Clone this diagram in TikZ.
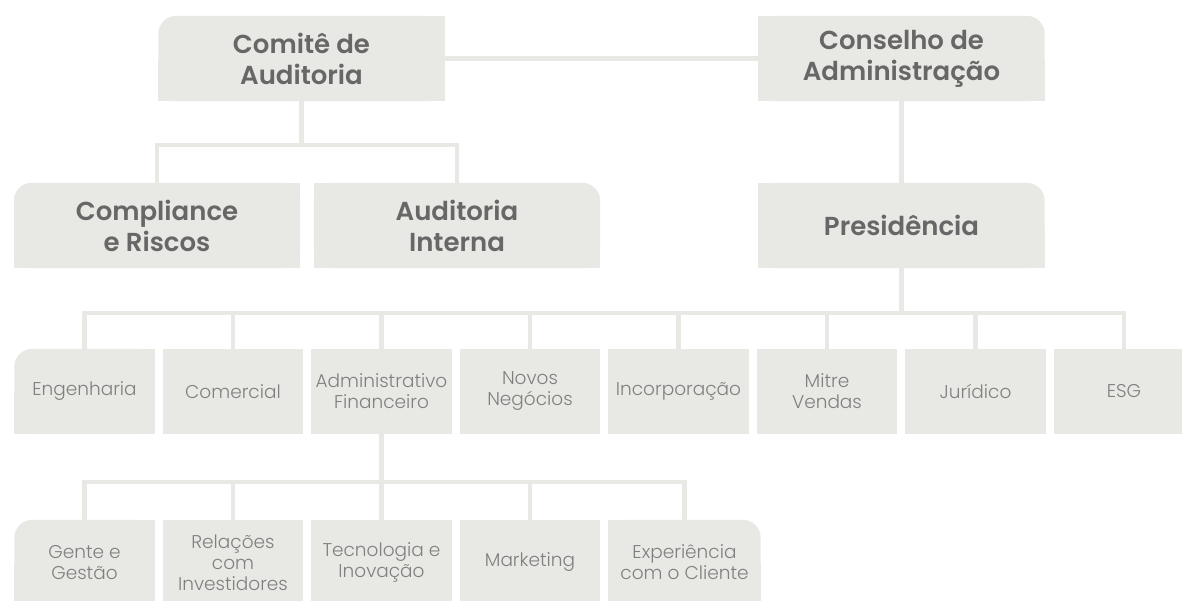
\documentclass[tikz,border=0pt]{standalone}
\usepackage{fontspec}
\setmainfont{Poppins}
\newfontfamily\headfont{Poppins SemiBold}
\newfontfamily\unitfont{Poppins Light}
\definecolor{boxfill}{HTML}{E8E8E4}
\definecolor{headtext}{HTML}{666766}
\definecolor{unittext}{HTML}{808080}
\pgfdeclarelayer{background}
\pgfsetlayers{background,main}
\tikzset{
  head/.style={minimum width=286pt, minimum height=85pt, inner sep=0pt, align=center,
    text=headtext, font=\headfont\fontsize{26}{31}\selectfont},
  unit/.style={minimum width=140pt, minimum height=85pt, inner sep=0pt, align=center,
    text=unittext, font=\unitfont\fontsize{18.5}{21}\selectfont},
  link/.style={draw=boxfill, line width=4.5pt, line join=miter},
  rc/.style={fill=boxfill, rounded corners=18pt}
}
\newcommand\fillsq[1]{\fill[boxfill] (#1.south west) rectangle (#1.north east);}
\newcommand\filltl[1]{\fill[rc] (#1.south west) rectangle (#1.north east);
  \fill[boxfill] (#1.south) rectangle (#1.north east);
  \fill[boxfill] (#1.west) rectangle (#1.south east);}
\newcommand\filltr[1]{\fill[rc] (#1.south west) rectangle (#1.north east);
  \fill[boxfill] (#1.south west) rectangle (#1.north);
  \fill[boxfill] (#1.west) rectangle (#1.south east);}
\begin{document}
\begin{tikzpicture}[x=1pt,y=-1pt]
\useasboundingbox (0,0) rectangle (1182,600);
% top
\node[head] (comite) at (301.5,58.5) {Comitê de\\Auditoria};
\node[head] (conselho) at (901.5,58.5) {Conselho de\\Administração};
\node[head] (compliance) at (157,225.5) {Compliance\\e Riscos};
\node[head] (auditoria) at (457,225.5) {Auditoria\\Interna};
\node[head] (presid) at (901.5,225.5) {Presidência};
% middle row
\node[unit] (eng) at (84.5,391.5) {Engenharia};
\node[unit] (com) at (233,391.5) {Comercial};
\node[unit] (adm) at (381.5,391.5) {Administrativo\\Financeiro};
\node[unit] (novos) at (530,391.5) {Novos\\Negócios};
\node[unit] (inc) at (678.5,391.5) {Incorporação};
\node[unit] (mitre) at (827,391.5) {Mitre\\Vendas};
\node[unit] (jur) at (975.5,391.5) {Jurídico};
\node[unit] (esg) at (1124,391.5) {ESG};
% bottom row
\node[unit] (gente) at (84.5,562.5) {Gente e\\Gestão};
\node[unit] (rel) at (233,562.5) {Relações\\com\\Investidores};
\node[unit] (tec) at (381.5,562.5) {Tecnologia e\\Inovação};
\node[unit] (mkt) at (530,562.5) {Marketing};
\node[unit, minimum width=152pt] (exp) at (684.5,562.5) {Experiência\\com o Cliente};
% bus coordinates
\coordinate (bus1) at (301.5,145);
\coordinate (bus2) at (901.5,313);
\coordinate (bus3) at (381.5,482);
\begin{pgfonlayer}{background}
\filltl{comite}
\filltr{conselho}
\filltl{compliance}
\filltr{auditoria}
\filltr{presid}
\filltl{eng}
\fillsq{com}\fillsq{adm}\fillsq{novos}\fillsq{inc}\fillsq{mitre}\fillsq{jur}\fillsq{esg}
\filltl{gente}
\fillsq{rel}\fillsq{tec}\fillsq{mkt}
\filltr{exp}
% connectors
\draw[link] (comite.east) -- (conselho.west);
\draw[link] (comite.south) -- (bus1);
\draw[link] (bus1) -| (compliance.north);
\draw[link] (bus1) -| (auditoria.north);
\draw[link] (conselho.south) -- (presid.north);
\draw[link] (presid.south) -- (bus2);
\draw[link] (bus2) -| (eng.north);
\draw[link] (bus2) -| (esg.north);
\foreach \n in {com,adm,novos,inc,mitre,jur} \draw[link] (\n.north) -- (\n.north |- bus2);
\draw[link] (adm.south) -- (bus3);
\draw[link] (bus3) -| (gente.north);
\draw[link] (bus3) -| (exp.north);
\foreach \n in {rel,tec,mkt} \draw[link] (\n.north) -- (\n.north |- bus3);
\end{pgfonlayer}
\end{tikzpicture}
\end{document}
